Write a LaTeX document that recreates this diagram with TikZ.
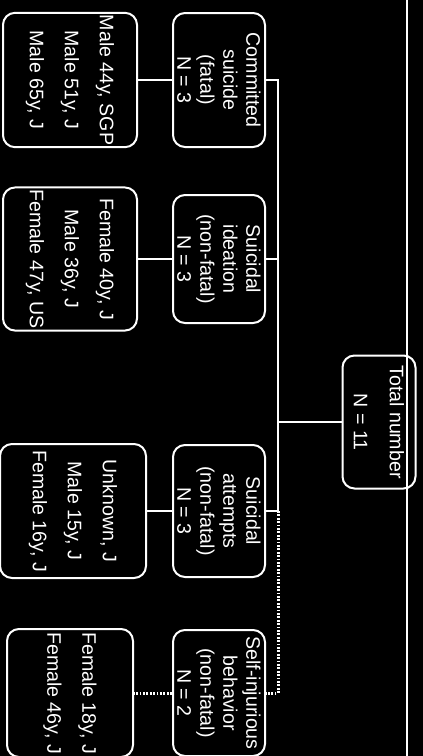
\documentclass[tikz,border=0pt]{standalone}
\usepackage{fontspec}
\setmainfont{Liberation Sans}

\begin{document}
\begin{tikzpicture}[x=0.5pt, y=0.5pt, rotate=-90, transform shape,
  box/.style={draw=white, line width=1pt, rounded corners=6pt, text=white, align=center, inner sep=1pt},
  catbox/.style={box, font=\fontsize{9.8}{11.5}\selectfont, minimum height=46pt},
  casebox/.style={box, font=\fontsize{9.8}{17.5}\selectfont, minimum height=67pt},
  wire/.style={draw=white, line width=1.3pt},
  maybe/.style={wire, line width=1.5pt, dash pattern=on 0.9pt off 0.8pt}]

\useasboundingbox (0,0) rectangle (756,423);
\fill[black] (0,0) rectangle (756,423);
\draw[white, line width=0.6pt] (0,407) -- (756,407);

\node[box, font=\fontsize{9.8}{18}\selectfont, minimum width=66.5pt, minimum height=36.5pt] (total) at (422,379) {Total number\\N = 11};

\node[catbox, minimum width=67pt] (com) at (80,219) {Committed\\suicide\\(fatal)\\N = 3};
\node[catbox, minimum width=64pt, right of=com, node distance=89.5pt] (ide) {Suicidal\\ideation\\(non-fatal)\\N = 3};
\node[catbox, minimum width=66pt, right of=ide, node distance=126pt] (att) {Suicidal\\attempts\\(non-fatal)\\N = 3};
\node[catbox, minimum width=63pt, right of=att, node distance=91pt] (self) {Self-injurious\\behavior\\(non-fatal)\\N = 2};

\node[casebox, minimum width=67pt, below of=com, node distance=74.5pt] (male) {Male 44y, SGP\\Male 51y, J\\Male 65y, J};
\node[casebox, minimum width=71pt, below of=ide, node distance=74.5pt] (fem) {Female 40y, J\\Male 36y, J\\Female 47y, US};
\node[casebox, minimum width=67pt, minimum height=73pt, below of=att, node distance=73pt] (unk) {Unknown, J\\Male 15y, J\\Female 16y, J};
\node[casebox, minimum width=64pt, minimum height=63pt, below of=self, node distance=74.5pt] (young) {Female 18y, J\\Female 46y, J};

% bus between total and the groups
\path (com.north) ++(0,12) coordinate (bus);
\draw[wire] (com.north) -- (bus) -| (att.north);
\draw[wire] (ide.north) -- (ide.north |- bus);
\draw[wire] (total.south) -- (total.south |- bus);
\draw[maybe] (att.north |- bus) -| (self.north);

\draw[wire] (com) -- (male);
\draw[wire] (ide) -- (fem);
\draw[wire] (att) -- (unk);
\draw[maybe] (self) -- (young);

\end{tikzpicture}
\end{document}
